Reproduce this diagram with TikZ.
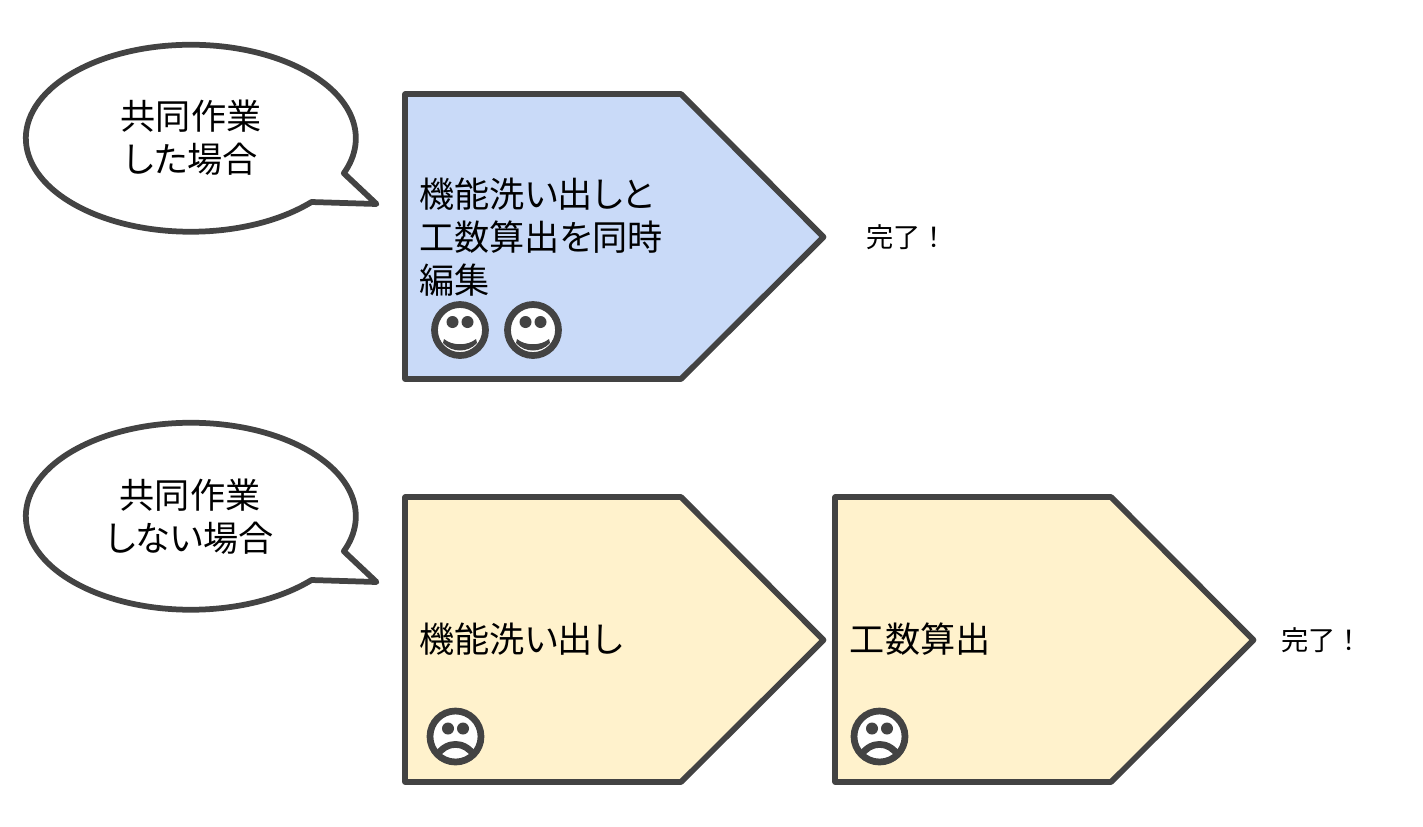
\documentclass[tikz,border=0pt]{standalone}
\usepackage{xcolor}
\usepackage{fontspec}
\setmainfont[RawFeature=+palt]{Noto Sans CJK JP}
\newfontfamily\fullwidth{Noto Sans CJK JP}
\definecolor{linegray}{HTML}{434343}
\definecolor{blueback}{HTML}{C9DAF8}
\definecolor{yellowback}{HTML}{FFF2CC}
\tikzset{
  outline/.style={draw=linegray, line width=0.115cm, line join=round},
  label/.style={inner sep=0pt, font=\fontsize{20}{24.6}\selectfont, align=left, anchor=west},
  saying/.style={inner sep=0pt, font=\fontsize{20}{24.6}\selectfont, align=center},
  done/.style={inner sep=0pt, font=\fullwidth\fontsize{15.5}{18}\selectfont, anchor=west},
  balloon/.pic={
    \draw[outline, fill=white] (121,64) arc [start angle=43, end angle=382, x radius=165, y radius=93.5] -- (186,66) -- cycle;
  },
  tag/.pic={
    \draw[outline, fill=#1] (0,0) -- (276,0) -- (418.5,143) -- (276,285) -- (0,285) -- cycle;
  },
  smile/.pic={
    \draw[draw=linegray, line width=0.135cm, fill=white] (0,0) circle [radius=25.5];
    \fill[linegray] (-7.5,-8) circle [radius=6] (7.5,-8) circle [radius=6];
    \fill[linegray] (-16,9) .. controls (-8,16) and (8,16) .. (16,9) -- (17,13) .. controls (8,23) and (-8,23) .. (-17,13) -- cycle;
  },
  frown/.pic={
    \draw[draw=linegray, line width=0.135cm, fill=white] (0,0) circle [radius=25.5];
    \fill[linegray] (-7.5,-8) circle [radius=6] (7.5,-8) circle [radius=6];
    \fill[linegray] (-16,21) .. controls (-8,8) and (8,8) .. (16,21) -- (20,15) .. controls (9,1) and (-9,1) .. (-20,15) -- cycle;
  }
}

\begin{document}
\begin{tikzpicture}[x=0.02cm, y=-0.02cm]
\useasboundingbox (0,0) rectangle (1423,826);

% speech balloons
\pic at (190.5,138) {balloon};
\pic at (190.5,516) {balloon};
\node (sayingtop) [saying] at (191,138) {共同作業\\した場合};
\node (sayingbottom) [saying] at (190,516.5) {共同作業\\しない場合};

% process tags
\pic at (405,94) {tag=blueback};
\pic at (405,497) {tag=yellowback};
\pic at (835,497) {tag=yellowback};

\node (together) [label] at (419,237) {機能洗い出しと\\工数算出を同時\\編集};
\node (listing) [label] at (419,639) {機能洗い出し};
\node (costing) [label] at (849.5,639) {工数算出};

\node (donetop) [done] at (866,237.5) {完了！};
\node (donebottom) [done] at (1281,640.5) {完了！};

% faces
\pic at (460,330) {smile};
\pic at (533,330) {smile};
\pic at (455.5,736.5) {frown};
\pic at (879.5,736.5) {frown};

\end{tikzpicture}
\end{document}
